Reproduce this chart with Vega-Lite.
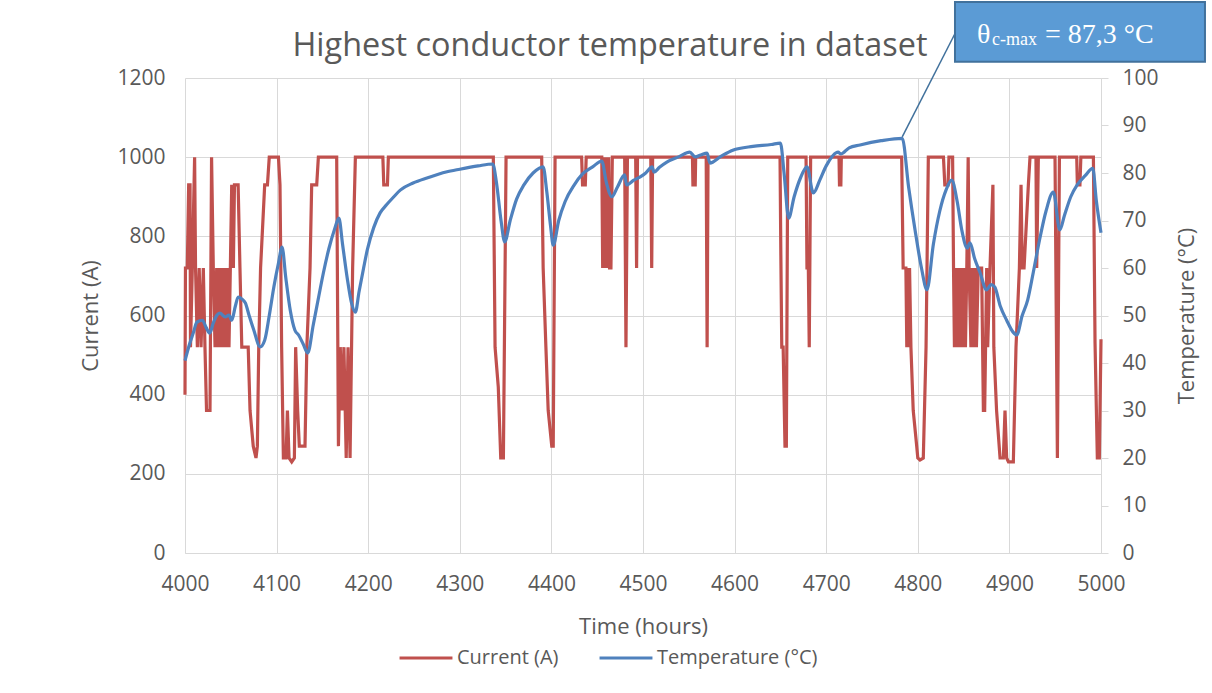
{
  "$schema": "https://vega.github.io/schema/vega-lite/v6.json",
  "width": 916,
  "height": 475,
  "autosize": {"type": "none"},
  "padding": {"left": 185, "top": 78, "right": 111, "bottom": 140},
  "background": "white",
  "config": {
    "font": "Open Sans",
    "view": {"stroke": null},
    "axis": {"labelColor": "#595959", "titleColor": "#595959", "labelFont": "Open Sans", "titleFont": "Open Sans", "titleFontWeight": "normal", "gridColor": "#D9D9D9", "domainColor": "#D9D9D9", "tickColor": "#D9D9D9", "labelFontSize": 21, "titleFontSize": 22, "labelFlush": false, "labelOverlap": false}
  },
  "title": {"text": "Highest conductor temperature in dataset", "fontSize": 32.4, "fontWeight": "normal", "color": "#595959", "font": "Open Sans", "anchor": "middle", "dx": -33, "offset": -87, "baseline": "alphabetic"},
  "datasets": {
    "current": [
      {"h":4000,"a":400},{"h":4000.5,"a":720},{"h":4002.5,"a":720},{"h":4004,"a":930},{"h":4005.5,"a":930},{"h":4006,"a":520},{"h":4008,"a":720},{"h":4010.5,"a":1000},{"h":4011.5,"a":720},{"h":4013.5,"a":520},{"h":4015.5,"a":720},{"h":4017.5,"a":520},{"h":4020,"a":720},{"h":4021.8,"a":520},{"h":4023.5,"a":360},{"h":4027.3,"a":360},{"h":4029,"a":1000},{"h":4030.9,"a":720},{"h":4032.8,"a":520},{"h":4034.6,"a":720},{"h":4036,"a":520},{"h":4037.5,"a":720},{"h":4039,"a":520},{"h":4040.5,"a":720},{"h":4042,"a":520},{"h":4043.5,"a":720},{"h":4045,"a":520},{"h":4046.5,"a":720},{"h":4048,"a":520},{"h":4049.5,"a":720},{"h":4051,"a":930},{"h":4052.8,"a":720},{"h":4054,"a":930},{"h":4058,"a":930},{"h":4060,"a":720},{"h":4062,"a":520},{"h":4069,"a":520},{"h":4071,"a":360},{"h":4074.5,"a":270},{"h":4077.5,"a":240},{"h":4079,"a":270},{"h":4080.5,"a":520},{"h":4082.5,"a":720},{"h":4087,"a":930},{"h":4090,"a":930},{"h":4092,"a":1000},{"h":4102,"a":1000},{"h":4103.7,"a":930},{"h":4105.5,"a":520},{"h":4107.4,"a":240},{"h":4110.3,"a":240},{"h":4111.8,"a":360},{"h":4113.6,"a":240},{"h":4116.5,"a":230},{"h":4119.4,"a":240},{"h":4120.8,"a":520},{"h":4123,"a":360},{"h":4124.8,"a":270},{"h":4131,"a":270},{"h":4133,"a":520},{"h":4136.5,"a":720},{"h":4138.3,"a":930},{"h":4143.8,"a":930},{"h":4145.6,"a":1000},{"h":4165.6,"a":1000},{"h":4167.5,"a":270},{"h":4169.5,"a":520},{"h":4171.5,"a":360},{"h":4173.5,"a":520},{"h":4176,"a":240},{"h":4178,"a":520},{"h":4180.2,"a":240},{"h":4183,"a":720},{"h":4186,"a":1000},{"h":4216,"a":1000},{"h":4217,"a":930},{"h":4221,"a":930},{"h":4222,"a":1000},{"h":4336.6,"a":1000},{"h":4338.5,"a":520},{"h":4342,"a":420},{"h":4344.7,"a":240},{"h":4347.6,"a":240},{"h":4350.5,"a":1000},{"h":4389.4,"a":1000},{"h":4391,"a":720},{"h":4394,"a":520},{"h":4396.5,"a":360},{"h":4400.4,"a":270},{"h":4402,"a":270},{"h":4404,"a":1000},{"h":4433,"a":1000},{"h":4434,"a":930},{"h":4437,"a":930},{"h":4438,"a":1000},{"h":4455,"a":1000},{"h":4456,"a":720},{"h":4457.5,"a":1000},{"h":4458.5,"a":720},{"h":4460,"a":1000},{"h":4461,"a":720},{"h":4462.5,"a":1000},{"h":4463.5,"a":720},{"h":4465,"a":720},{"h":4466.5,"a":1000},{"h":4480,"a":1000},{"h":4481.4,"a":520},{"h":4483,"a":1000},{"h":4492,"a":1000},{"h":4493,"a":720},{"h":4494,"a":1000},{"h":4508.5,"a":1000},{"h":4509.5,"a":720},{"h":4510.5,"a":1000},{"h":4554,"a":1000},{"h":4554.5,"a":930},{"h":4557,"a":930},{"h":4557.5,"a":1000},{"h":4569,"a":1000},{"h":4570,"a":520},{"h":4571,"a":1000},{"h":4649.6,"a":1000},{"h":4650.5,"a":750},{"h":4651.5,"a":520},{"h":4653,"a":520},{"h":4655,"a":270},{"h":4656.5,"a":270},{"h":4658,"a":1000},{"h":4678,"a":1000},{"h":4679,"a":720},{"h":4680.5,"a":720},{"h":4681.5,"a":520},{"h":4683,"a":1000},{"h":4714,"a":1000},{"h":4714.5,"a":930},{"h":4716,"a":930},{"h":4716.5,"a":1000},{"h":4782.4,"a":1000},{"h":4784,"a":720},{"h":4787,"a":720},{"h":4788,"a":520},{"h":4789,"a":720},{"h":4790,"a":520},{"h":4791,"a":720},{"h":4792.5,"a":520},{"h":4795,"a":360},{"h":4798.8,"a":270},{"h":4800,"a":240},{"h":4802.4,"a":235},{"h":4806,"a":240},{"h":4809,"a":520},{"h":4811.5,"a":1000},{"h":4828,"a":1000},{"h":4829.5,"a":930},{"h":4833,"a":930},{"h":4834,"a":1000},{"h":4838,"a":1000},{"h":4839,"a":720},{"h":4840,"a":520},{"h":4841.5,"a":720},{"h":4843,"a":520},{"h":4844.5,"a":720},{"h":4846,"a":520},{"h":4847.5,"a":720},{"h":4849,"a":520},{"h":4850.5,"a":720},{"h":4852,"a":520},{"h":4853.5,"a":720},{"h":4855,"a":1000},{"h":4856,"a":720},{"h":4858,"a":520},{"h":4859.5,"a":720},{"h":4861,"a":520},{"h":4862.5,"a":720},{"h":4864,"a":520},{"h":4866,"a":720},{"h":4869.7,"a":720},{"h":4871.6,"a":360},{"h":4873,"a":360},{"h":4875.2,"a":720},{"h":4876.3,"a":520},{"h":4878.8,"a":720},{"h":4882,"a":930},{"h":4883,"a":520},{"h":4886,"a":360},{"h":4889.8,"a":240},{"h":4893.4,"a":240},{"h":4895.2,"a":360},{"h":4897,"a":240},{"h":4899,"a":230},{"h":4904.3,"a":230},{"h":4907.2,"a":520},{"h":4910.9,"a":720},{"h":4912.7,"a":930},{"h":4914,"a":720},{"h":4916,"a":720},{"h":4920.7,"a":930},{"h":4922.5,"a":1000},{"h":4929,"a":1000},{"h":4929.8,"a":720},{"h":4931.6,"a":1000},{"h":4949.8,"a":1000},{"h":4952.4,"a":240},{"h":4954.6,"a":1000},{"h":4973.5,"a":1000},{"h":4974.2,"a":930},{"h":4977,"a":930},{"h":4978,"a":1000},{"h":4991.7,"a":1000},{"h":4993.5,"a":530},{"h":4996,"a":240},{"h":4998.2,"a":240},{"h":5000,"a":540}
    ],
    "temp": [
      {"h":4000,"t":40.5},{"h":4005,"t":44},{"h":4009,"t":46.3},{"h":4013,"t":48.6},{"h":4019,"t":49},{"h":4023,"t":47.5},{"h":4027,"t":46.3},{"h":4031,"t":48.5},{"h":4035,"t":50.1},{"h":4038,"t":50.5},{"h":4044,"t":49.7},{"h":4048,"t":50.1},{"h":4051,"t":49},{"h":4055,"t":52},{"h":4058,"t":53.9},{"h":4062,"t":53.5},{"h":4066,"t":52.6},{"h":4070,"t":50},{"h":4075,"t":47},{"h":4082,"t":43.4},{"h":4087,"t":44.8},{"h":4092,"t":50},{"h":4097,"t":56},{"h":4102,"t":61},{"h":4106,"t":64.4},{"h":4110,"t":58},{"h":4115,"t":51},{"h":4120,"t":46.9},{"h":4124,"t":45.9},{"h":4129,"t":44},{"h":4134,"t":42.1},{"h":4140,"t":48},{"h":4146,"t":54},{"h":4151,"t":58.9},{"h":4157,"t":64},{"h":4163,"t":68},{"h":4168,"t":70.5},{"h":4172,"t":65},{"h":4177,"t":58},{"h":4182,"t":52.5},{"h":4186,"t":50.7},{"h":4190,"t":55},{"h":4195,"t":60},{"h":4199,"t":63.8},{"h":4206,"t":68.5},{"h":4213,"t":71.6},{"h":4220,"t":73.3},{"h":4228,"t":75},{"h":4235,"t":76.4},{"h":4249,"t":77.9},{"h":4265,"t":79},{"h":4285,"t":80.2},{"h":4300,"t":80.8},{"h":4320,"t":81.5},{"h":4336,"t":81.9},{"h":4340,"t":78},{"h":4345,"t":70},{"h":4349,"t":65.5},{"h":4355,"t":70},{"h":4362,"t":74.5},{"h":4370,"t":77.5},{"h":4380,"t":80},{"h":4391,"t":81.3},{"h":4395,"t":76},{"h":4399,"t":69},{"h":4402,"t":64.8},{"h":4408,"t":70},{"h":4415,"t":74},{"h":4425,"t":77.5},{"h":4434,"t":79.8},{"h":4445,"t":81.3},{"h":4455,"t":82.5},{"h":4460,"t":78},{"h":4466,"t":75},{"h":4472,"t":77},{"h":4480,"t":79.6},{"h":4482,"t":77.5},{"h":4490,"t":78.5},{"h":4497,"t":79.2},{"h":4503,"t":80},{"h":4510,"t":81.3},{"h":4512,"t":80.2},{"h":4518,"t":81.2},{"h":4526,"t":82.3},{"h":4540,"t":83.5},{"h":4551,"t":84.4},{"h":4557,"t":83.4},{"h":4563,"t":83.8},{"h":4570,"t":84.2},{"h":4573,"t":82.1},{"h":4585,"t":83.5},{"h":4598,"t":84.8},{"h":4620,"t":85.6},{"h":4640,"t":86},{"h":4650,"t":86.3},{"h":4654,"t":80},{"h":4659,"t":70.5},{"h":4665,"t":75},{"h":4672,"t":79},{"h":4679,"t":81.3},{"h":4686,"t":75.8},{"h":4693,"t":78.5},{"h":4700,"t":81.5},{"h":4713,"t":84.4},{"h":4716,"t":84},{"h":4725,"t":85.3},{"h":4737,"t":85.9},{"h":4760,"t":86.8},{"h":4783,"t":87.3},{"h":4790,"t":77},{"h":4797,"t":68},{"h":4804,"t":60},{"h":4810,"t":55.4},{"h":4817,"t":65},{"h":4824,"t":72},{"h":4831,"t":76.5},{"h":4837,"t":78.5},{"h":4843,"t":74},{"h":4848,"t":68},{"h":4854,"t":64.2},{"h":4857,"t":65.3},{"h":4862,"t":62},{"h":4868,"t":59},{"h":4875,"t":55.4},{"h":4880,"t":56.5},{"h":4884,"t":56},{"h":4890,"t":52},{"h":4897,"t":49},{"h":4904,"t":46.5},{"h":4908,"t":45.9},{"h":4914,"t":50},{"h":4920,"t":53.3},{"h":4926,"t":59},{"h":4933,"t":66},{"h":4940,"t":72},{"h":4948,"t":76},{"h":4955,"t":68},{"h":4960,"t":71},{"h":4967,"t":75},{"h":4974,"t":77.5},{"h":4983,"t":79.5},{"h":4991,"t":81},{"h":4995,"t":74},{"h":5000,"t":67.4}
    ],
    "leader": [{"h":4783,"t":87.6,"h2":4842.6,"t2":110.1}],
    "box": [{"h":4840.6,"t":103.4,"h2":5113.5,"t2":116.0}],
    "label": [
      {"h":4864.6,"t":107.4,"text":"θ","part":"main"},
      {"h":4881,"t":106.9,"text":"c-max","part":"sub"},
      {"h":4938.9,"t":107.4,"text":"= 87,3 °C","part":"main"}
    ]
  },
  "layer": [
    {
      "data": {"name": "current"},
      "mark": {"type": "line", "strokeWidth": 3.2, "interpolate": "linear"},
      "encoding": {
        "x": {"field": "h", "type": "quantitative", "scale": {"domain": [4000, 5000], "nice": false, "zero": false},
              "axis": {"title": "Time (hours)", "values": [4000,4100,4200,4300,4400,4500,4600,4700,4800,4900,5000], "grid": true, "ticks": false, "domain": true, "labelPadding": 20, "titlePadding": 22, "format": "d"}},
        "y": {"field": "a", "type": "quantitative", "scale": {"domain": [0, 1200], "nice": false},
              "axis": {"title": "Current (A)", "orient": "left", "values": [0,200,400,600,800,1000,1200], "grid": true, "ticks": false, "domain": false, "labelPadding": 20, "titlePadding": 14, "format": "d"}},
        "color": {"datum": "Current (A)", "type": "nominal",
                  "scale": {"domain": ["Current (A)", "Temperature (°C)"], "range": ["#C0504D", "#4F81BD"]},
                  "legend": {"title": null, "orient": "none", "legendX": 213, "legendY": 552, "direction": "horizontal", "symbolType": "stroke", "symbolSize": 2800, "symbolStrokeWidth": 3, "labelFontSize": 20, "labelColor": "#595959", "labelFont": "Open Sans", "labelLimit": 400, "columnPadding": 34, "labelOffset": 3}}
      }
    },
    {
      "layer": [
        {
          "data": {"name": "temp"},
          "mark": {"type": "line", "strokeWidth": 3.2, "interpolate": "monotone"},
          "encoding": {
            "x": {"field": "h", "type": "quantitative"},
            "y": {"field": "t", "type": "quantitative", "scale": {"domain": [0, 100], "nice": false},
                  "axis": {"title": "Temperature (°C)", "orient": "right", "values": [0,10,20,30,40,50,60,70,80,90,100], "grid": false, "ticks": true, "tickSize": 7, "domain": true, "labelPadding": 14, "titlePadding": 40, "titleAngle": 270}},
            "color": {"datum": "Temperature (°C)", "type": "nominal"}
          }
        },
        {
          "data": {"name": "leader"},
          "mark": {"type": "rule", "color": "#41719C", "strokeWidth": 1.5},
          "encoding": {
            "x": {"field": "h", "type": "quantitative"},
            "y": {"field": "t", "type": "quantitative"},
            "x2": {"field": "h2"},
            "y2": {"field": "t2"}
          }
        },
        {
          "data": {"name": "box"},
          "mark": {"type": "rect", "fill": "#5B9BD5", "stroke": "#41719C", "strokeWidth": 2},
          "encoding": {
            "x": {"field": "h", "type": "quantitative"},
            "y": {"field": "t", "type": "quantitative"},
            "x2": {"field": "h2"},
            "y2": {"field": "t2"}
          }
        },
        {
          "data": {"name": "label"},
          "transform": [{"filter": "datum.part === 'main'"}],
          "mark": {"type": "text", "font": "Liberation Serif", "fontSize": 28, "color": "white", "align": "left", "baseline": "alphabetic"},
          "encoding": {
            "x": {"field": "h", "type": "quantitative"},
            "y": {"field": "t", "type": "quantitative"},
            "text": {"field": "text"}
          }
        },
        {
          "data": {"name": "label"},
          "transform": [{"filter": "datum.part === 'sub'"}],
          "mark": {"type": "text", "font": "Liberation Serif", "fontSize": 18, "color": "white", "align": "left", "baseline": "alphabetic"},
          "encoding": {
            "x": {"field": "h", "type": "quantitative"},
            "y": {"field": "t", "type": "quantitative"},
            "text": {"field": "text"}
          }
        }
      ]
    }
  ],
  "resolve": {"scale": {"y": "independent"}}
}
